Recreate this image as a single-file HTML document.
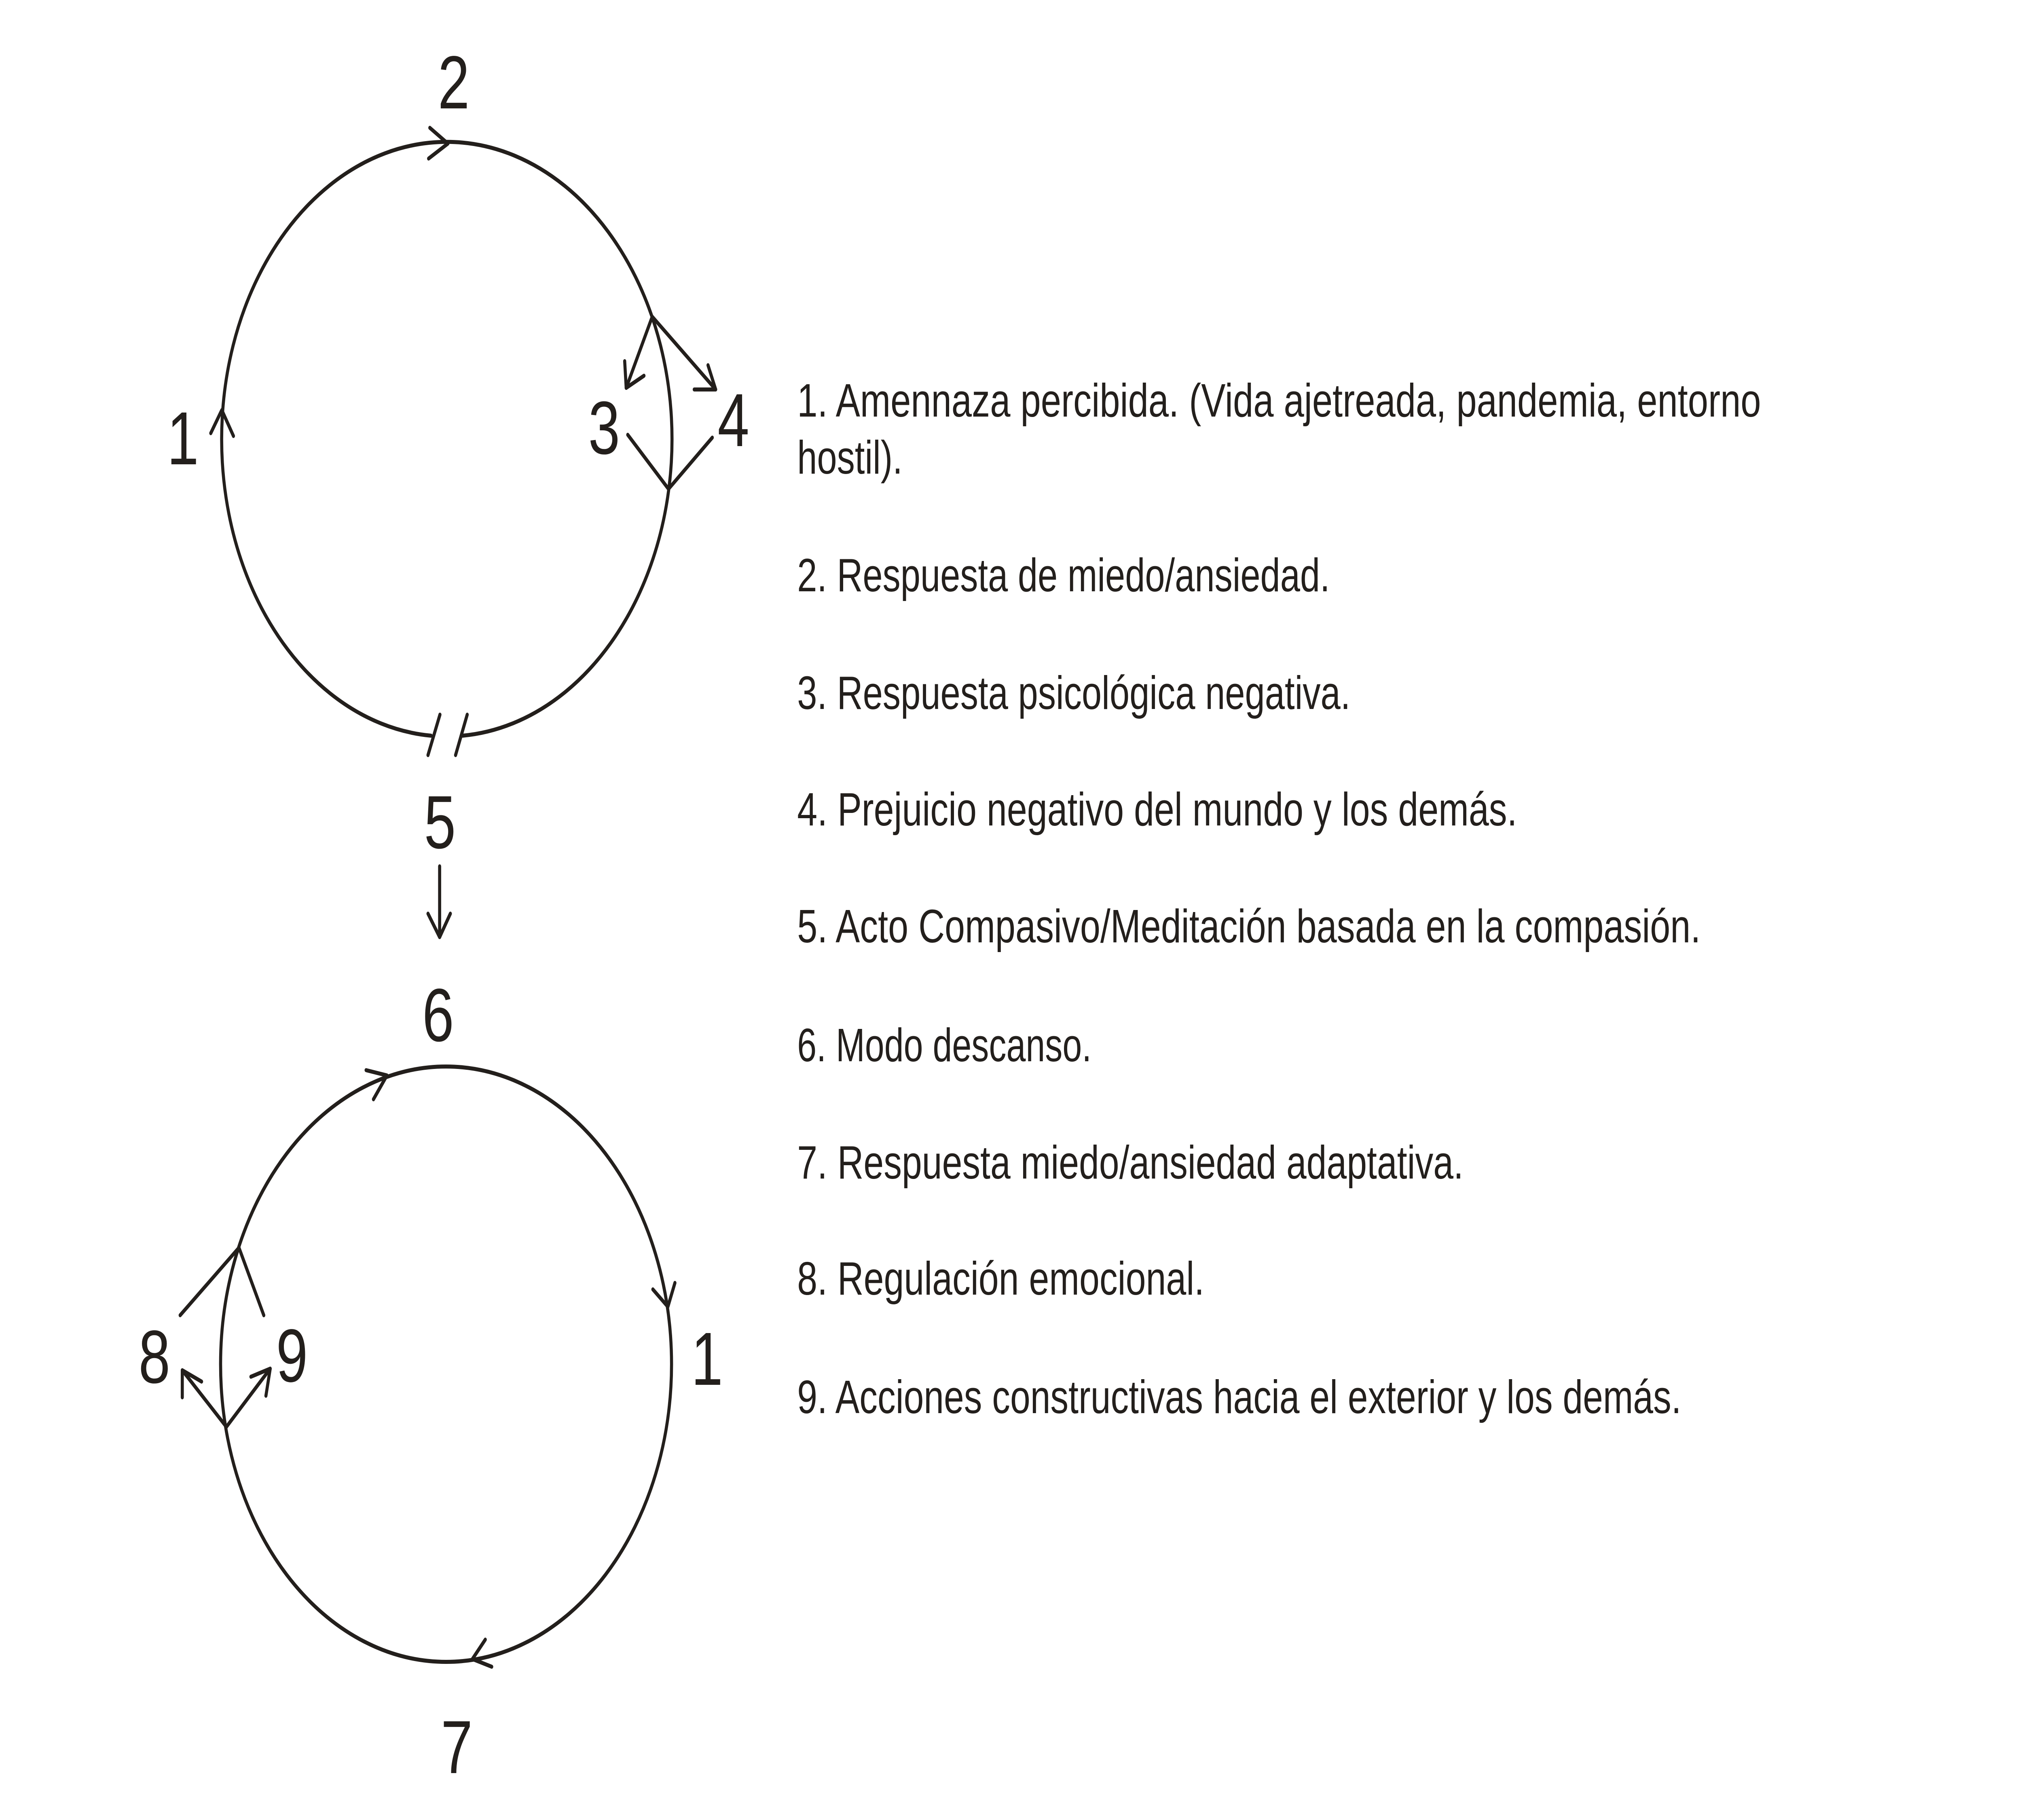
<!DOCTYPE html>
<html><head><meta charset="utf-8"><style>
html,body{margin:0;padding:0;background:#fff;overflow:hidden;width:100%;height:100%}
svg{display:block;width:100vw;height:100vh}
text{font-family:"Liberation Sans",sans-serif;fill:#231f1c}
</style></head><body>
<svg viewBox="0 0 6600 4500" preserveAspectRatio="none" xmlns="http://www.w3.org/2000/svg">
<rect width="6600" height="4500" fill="#fff"/>
<g fill="none" stroke="#231f1c" stroke-width="10" stroke-linecap="round" stroke-linejoin="round">
<path d="M1510 1819 A735 735 0 1 0 1407 1819"/>
<line x1="1436" y1="1767" x2="1397" y2="1867"/>
<line x1="1525" y1="1767" x2="1487" y2="1867"/>
<polyline points="1403,316 1462,355 1399,392"/>
<polyline points="688,1071 724,1014 762,1078"/>
<line x1="2129" y1="783" x2="2044" y2="959"/>
<polyline points="2039,893 2044,959 2102,929"/>
<line x1="2129" y1="783" x2="2336" y2="963"/>
<polyline points="2266,963 2336,963 2311,903"/>
<polyline points="2049,1075 2182,1209 2325,1082"/>
<line x1="1435" y1="2142" x2="1435" y2="2317"/>
<polyline points="1397,2259 1435,2317 1470,2259"/>
<circle cx="1456" cy="3373" r="736"/>
<polyline points="1195,2646 1263,2659 1219,2718"/>
<polyline points="2131,3188 2180,3231 2203,3172"/>
<polyline points="1584,4054 1542,4102 1605,4121"/>
<polyline points="588,3252 780,3085 861,3252"/>
<line x1="739" y1="3528" x2="595" y2="3388"/>
<polyline points="595,3455 595,3388 658,3416"/>
<line x1="739" y1="3528" x2="882" y2="3384"/>
<polyline points="819,3404 882,3384 868,3451"/>
</g>
<g font-size="186">
<text x="1481" y="268" text-anchor="middle">2</text>
<text x="597" y="1148" text-anchor="middle">1</text>
<text x="1972" y="1122" text-anchor="middle">3</text>
<text x="2394" y="1103" text-anchor="middle">4</text>
<text x="1436" y="2097" text-anchor="middle">5</text>
<text x="1430" y="2574" text-anchor="middle">6</text>
<text x="1491" y="4384" text-anchor="middle">7</text>
<text x="504" y="3419" text-anchor="middle">8</text>
<text x="953" y="3416" text-anchor="middle">9</text>
<text x="2308" y="3424" text-anchor="middle">1</text>
</g>
<g font-size="116">
<text x="2602" y="1030" textLength="3146" lengthAdjust="spacingAndGlyphs">1. Amennaza percibida. (Vida ajetreada, pandemia, entorno</text>
<text x="2602" y="1171" textLength="344" lengthAdjust="spacingAndGlyphs">hostil).</text>
<text x="2602" y="1462" textLength="1739" lengthAdjust="spacingAndGlyphs">2. Respuesta de miedo/ansiedad.</text>
<text x="2602" y="1753" textLength="1806" lengthAdjust="spacingAndGlyphs">3. Respuesta psicológica negativa.</text>
<text x="2602" y="2041" textLength="2350" lengthAdjust="spacingAndGlyphs">4. Prejuicio negativo del mundo y los demás.</text>
<text x="2602" y="2330" textLength="2949" lengthAdjust="spacingAndGlyphs">5. Acto Compasivo/Meditación basada en la compasión.</text>
<text x="2602" y="2624" textLength="961" lengthAdjust="spacingAndGlyphs">6. Modo descanso.</text>
<text x="2602" y="2914" textLength="2175" lengthAdjust="spacingAndGlyphs">7. Respuesta miedo/ansiedad adaptativa.</text>
<text x="2602" y="3201" textLength="1329" lengthAdjust="spacingAndGlyphs">8. Regulación emocional.</text>
<text x="2602" y="3494" textLength="2886" lengthAdjust="spacingAndGlyphs">9. Acciones constructivas hacia el exterior y los demás.</text>
</g>
</svg>
</body></html>
